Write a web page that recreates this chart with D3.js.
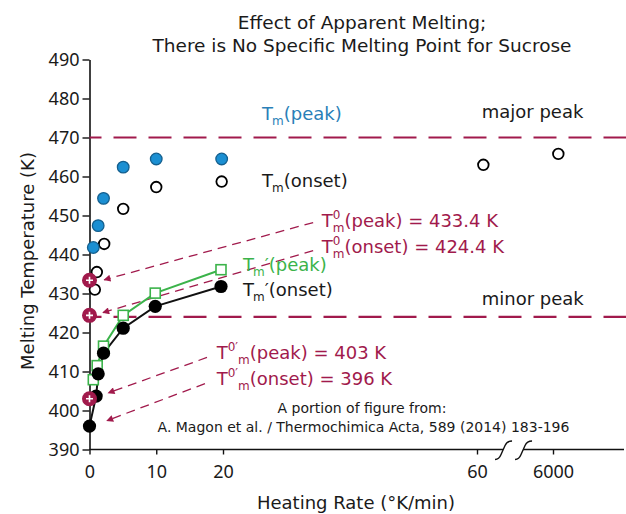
<!DOCTYPE html>
<html><head><meta charset="utf-8">
<script src="https://cdn.jsdelivr.net/npm/d3@7"></script>
<style>
body{margin:0;background:#fff}
svg{display:block}
text{font-family:"DejaVu Sans",sans-serif;fill:#1a1a1a}
.tick text{font-family:"Noto Sans",sans-serif}
</style>
</head><body>
<svg id="c" width="626" height="514"></svg>
<script>
// ---------------- data ----------------
const yTicks = [390,400,410,420,430,440,450,460,470,480,490];
const xTicksLow = [0,10,20,60];
const xTicksHigh = [6000];

// Tm(peak) - blue filled circles
const peakRate = [0.57,1.3,2.1,5.05,10,19.8];
const peakTemp = [441.8,447.4,454.4,462.4,464.5,464.5];
// Tm(onset) - open circles
const onsetRate = [0.8,1.1,2.2,5.05,10,19.8,61,6075];
const onsetTemp = [431,435.5,442.7,451.7,457.3,458.7,463,465.8];
// Tm'(peak) - green squares
const primePeakRate = [0.57,1.15,2.1,5.05,9.85,19.7];
const primePeakTemp = [407.9,411.5,416.5,424.4,430.1,436.1];
// Tm'(onset) - black filled circles
const primeOnsetRate = [0,1,1.3,2.1,5.05,9.85,19.7];
const primeOnsetTemp = [396,403.7,409.4,414.7,421.1,426.7,431.8];
// extrapolated values at zero heating rate
const extrapRate = [0,0,0];
const extrapTemp = [433.4,424.4,403];
// reference lines
const refTemp = [470,424];
const refLabel = ["major peak","minor peak"];
// annotation arrows [rate,temp] -> [rate,temp]
const arrowFrom = [[34.2,448.2],[34.2,441.0],[17.6,413.6],[17.3,406.9]];
const arrowTo   = [[2.2,433.5],[2.0,425.1],[2.8,404.5],[2.6,397.4]];

// ---------------- scales ----------------
const svg = d3.select("#c");
const crimson = "#a11a4c", green = "#3bb34a", blue = "#1b8fd2", blueDark = "#145f8e", blueText = "#2a7fb8";

const y = d3.scaleLinear().domain([390,490]).range([449.5,59.5]);
const xLo = d3.scaleLinear().domain([0,20,60]).range([89.5,223,477]);
const xHi = d3.scaleLinear().domain([6000,7000]).range([553,624]);
const x = v => v >= 1000 ? xHi(v) : xLo(v);
const breakLow = 64.1, breakHigh = 5578;

// ---------------- axes ----------------
const gy = svg.append("g").attr("transform",`translate(${xLo(0)},0)`)
  .call(d3.axisLeft(y).tickValues(yTicks).tickSize(7).tickSizeOuter(0).tickPadding(3));
gy.select(".domain").attr("stroke","#111").attr("stroke-width",1.6);
gy.selectAll(".tick line").attr("stroke","#111").attr("stroke-width",1.4);
gy.selectAll(".tick text").style("font-size","18px").attr("fill","#1a1a1a");

const axY = y(390);
const gx1 = svg.append("g").attr("transform",`translate(0,${axY})`)
  .call(d3.axisBottom(xLo).tickValues(xTicksLow).tickFormat(d3.format("d")).tickSize(5).tickPadding(11));
const gx2 = svg.append("g").attr("transform",`translate(0,${axY})`)
  .call(d3.axisBottom(xHi).tickValues(xTicksHigh).tickFormat(d3.format("d")).tickSize(5).tickPadding(11));
[gx1,gx2].forEach(g=>{
  g.select(".domain").remove();
  g.selectAll(".tick line").attr("stroke","#111").attr("stroke-width",1.4);
  g.selectAll(".tick text").style("font-size","18px").attr("fill","#1a1a1a");
});
// axis line with break
const axLine = svg.append("g").attr("stroke","#111").attr("stroke-width",1.6).attr("fill","none");
axLine.append("line").attr("x1",xLo(0)).attr("x2",xLo(breakLow)).attr("y1",axY).attr("y2",axY);
axLine.append("line").attr("x1",xHi(breakHigh)).attr("x2",xHi(7000)).attr("y1",axY).attr("y2",axY);
[xLo(breakLow), xHi(breakHigh)].forEach(cx=>{
  axLine.append("path").attr("stroke-width",1.4)
    .attr("d",`M${cx-8},${axY+10} Q${cx-4},${axY+10} ${cx-2},${axY+5} L${cx+2},${axY-4} Q${cx+4},${axY-8.5} ${cx+9},${axY-8.5}`);
});

// axis titles
svg.append("text").attr("x",356).attr("y",509).attr("text-anchor","middle")
  .style("font-size","18px").text("Heating Rate (°K/min)");
svg.append("text").attr("transform","translate(34,261) rotate(-90)").attr("text-anchor","middle")
  .style("font-size","18px").text("Melting Temperature (K)");

// title
svg.append("text").attr("x",362).attr("y",28.5).attr("text-anchor","middle")
  .style("font-size","18.5px").text("Effect of Apparent Melting;");
svg.append("text").attr("x",362).attr("y",51.5).attr("text-anchor","middle")
  .style("font-size","18.5px").text("There is No Specific Melting Point for Sucrose");

// ---------------- reference lines ----------------
svg.append("g").selectAll("line").data(refTemp).join("line")
  .attr("x1",xLo(0)).attr("x2",626).attr("y1",d=>y(d)).attr("y2",d=>y(d))
  .attr("stroke",crimson).attr("stroke-width",2.2).attr("stroke-dasharray","23,12").attr("stroke-dashoffset",11);
svg.append("g").selectAll("text").data(refLabel).join("text")
  .attr("x",481.7).attr("y",(d,i)=>i===0?118:305).style("font-size","18px").text(d=>d);

// ---------------- arrows ----------------
svg.append("defs").append("marker").attr("id","ah")
  .attr("viewBox","0 0 10 10").attr("refX",9).attr("refY",5)
  .attr("markerWidth",9).attr("markerHeight",7).attr("markerUnits","userSpaceOnUse")
  .attr("orient","auto")
  .append("path").attr("d","M0,0 L10,5 L0,10 z").attr("fill",crimson);
svg.append("g").selectAll("line").data(arrowFrom).join("line")
  .attr("x1",d=>x(d[0])).attr("y1",d=>y(d[1]))
  .attr("x2",(d,i)=>x(arrowTo[i][0])).attr("y2",(d,i)=>y(arrowTo[i][1]))
  .attr("stroke",crimson).attr("stroke-width",1.3).attr("stroke-dasharray","9,6")
  .attr("marker-end","url(#ah)");

// ---------------- series ----------------
const line = d3.line().x(d=>x(d[0])).y(d=>y(d[1]));
const pp = primePeakRate.map((r,i)=>[r,primePeakTemp[i]]);
const po = primeOnsetRate.map((r,i)=>[r,primeOnsetTemp[i]]);
svg.append("path").datum(pp).attr("d",line).attr("fill","none").attr("stroke",green).attr("stroke-width",2);
svg.append("path").datum(po).attr("d",line).attr("fill","none").attr("stroke","#111").attr("stroke-width",2);

svg.append("g").selectAll("rect").data(pp).join("rect")
  .attr("x",d=>x(d[0])-5).attr("y",d=>y(d[1])-5).attr("width",10).attr("height",10)
  .attr("fill","#fff").attr("stroke",green).attr("stroke-width",1.6);
svg.append("g").selectAll("circle").data(po).join("circle")
  .attr("cx",d=>x(d[0])).attr("cy",d=>y(d[1])).attr("r",6.6).attr("fill","#000");

svg.append("g").selectAll("circle").data(onsetRate.map((r,i)=>[r,onsetTemp[i]])).join("circle")
  .attr("cx",d=>x(d[0])).attr("cy",d=>y(d[1])).attr("r",5.3)
  .attr("fill","#fff").attr("stroke","#000").attr("stroke-width",1.8);
svg.append("g").selectAll("circle").data(peakRate.map((r,i)=>[r,peakTemp[i]])).join("circle")
  .attr("cx",d=>x(d[0])).attr("cy",d=>y(d[1])).attr("r",5.8)
  .attr("fill",blue).attr("stroke",blueDark).attr("stroke-width",1.3);

const ex = svg.append("g").selectAll("g").data(extrapRate.map((r,i)=>[r,extrapTemp[i]])).join("g")
  .attr("transform",d=>`translate(${x(d[0])},${y(d[1])})`);
ex.append("circle").attr("r",7.5).attr("fill",crimson);
ex.append("path").attr("d","M-3.5,0 H3.5 M0,-3.5 V3.5").attr("stroke","#fff").attr("stroke-width",1.6);

// ---------------- rich labels ----------------
function rich(x0,y0,parts,fill){
  const t = svg.append("text").attr("x",x0).attr("y",y0).style("fill",fill).style("font-size","18px");
  let cur = 0;
  parts.forEach(([s,k,dx])=>{
    const off = k==="sup" ? -8 : k==="sub" ? 5 : 0;
    const ts = t.append("tspan").text(s).attr("dy",off-cur);
    if (dx) ts.attr("dx",dx);
    if (k==="sup"||k==="sub") ts.style("font-size","12px");
    cur = off;
  });
}
rich(262,120,[["T"],["m","sub",-1],["(peak)"]],blueText);
rich(262,187,[["T"],["m","sub",-1],["(onset)"]],"#1a1a1a");
rich(321.7,226.5,[["T"],["0","sup"],["m","sub",-7.6],["(peak) = 433.4 K"]],crimson);
rich(321.7,253,[["T"],["0","sup"],["m","sub",-7.6],["(onset) = 424.4 K"]],crimson);
rich(243,270.5,[["T"],["m","sub",-1],["′(peak)"]],green);
rich(243,296,[["T"],["m","sub",-1],["′(onset)"]],"#1a1a1a");
rich(216.7,359,[["T"],["0′","sup"],["m","sub"],["(peak) = 403 K"]],crimson);
rich(216.7,385,[["T"],["0′","sup"],["m","sub"],["(onset) = 396 K"]],crimson);

// citation
svg.append("text").attr("x",362).attr("y",413).attr("text-anchor","middle")
  .style("font-size","14px").text("A portion of figure from:");
svg.append("text").attr("x",363.5).attr("y",432).attr("text-anchor","middle")
  .style("font-size","14px").text("A. Magon et al. / Thermochimica Acta, 589 (2014) 183-196");
</script>
</body></html>
